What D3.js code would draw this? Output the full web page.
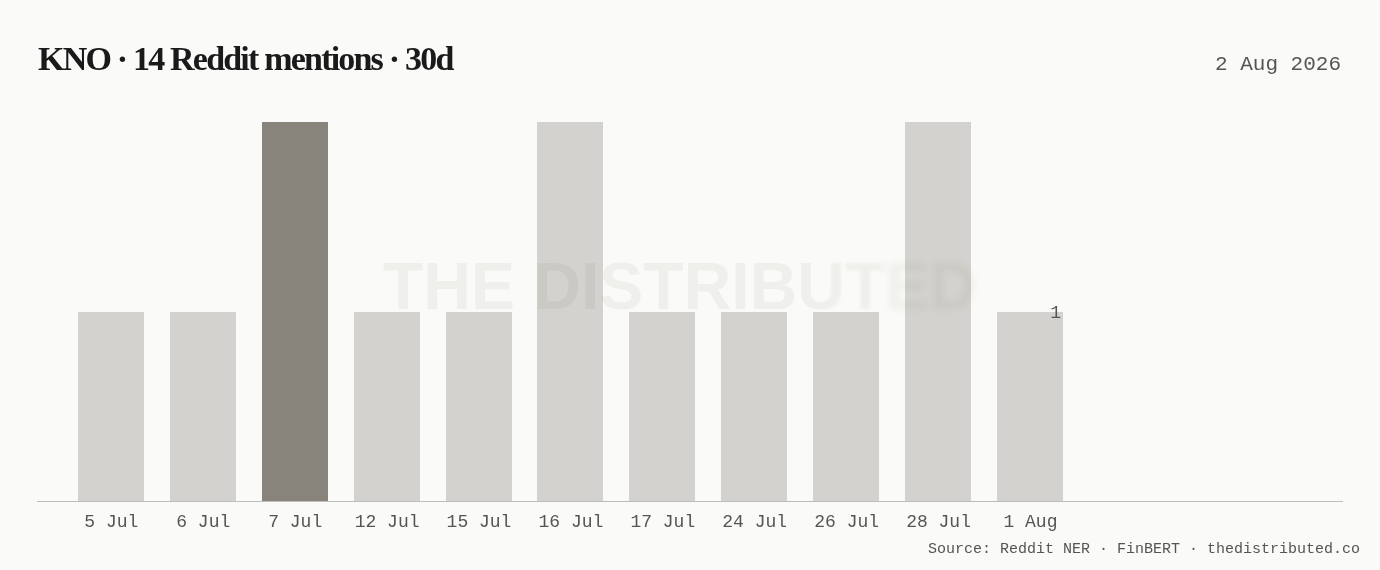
<!DOCTYPE html>
<html><head><meta charset="utf-8">
<script src="https://cdn.jsdelivr.net/npm/d3@7"></script>
<style>
html,body{margin:0;padding:0;background:#fafaf8;}
svg{display:block;}
</style></head>
<body>
<svg id="chart" width="1380" height="570"></svg>
<script>
const dates = ["5 Jul","6 Jul","7 Jul","12 Jul","15 Jul","16 Jul","17 Jul","24 Jul","26 Jul","28 Jul","1 Aug"];
const mentions = [1,1,2,1,1,2,1,1,1,2,1];
const highlighted = ["7 Jul"];
const titleText = "KNO · 14 Reddit mentions · 30d";
const dateText = "2 Aug 2026";
const sourceText = "Source: Reddit NER · FinBERT · thedistributed.co";
const watermarkText = "THE DISTRIBUTED";
const lastLabel = "1";

const svg = d3.select("#chart");
const W = 1380, H = 570;
svg.append("rect").attr("width",W).attr("height",H).attr("fill","#fafaf8");

const x = d3.scaleBand().domain(dates).range([65.4,1076.4]).paddingInner(0.2826).paddingOuter(0.1413);
const y = d3.scaleLinear().domain([0,2]).range([501,122]).interpolate(d3.interpolateRound);

const data = dates.map((d,i)=>({d, v:mentions[i]}));

svg.append("g").selectAll("rect").data(data).join("rect")
  .attr("x",d=>Math.floor(x(d.d))).attr("width",Math.round(x.bandwidth()))
  .attr("y",d=>y(d.v)).attr("height",d=>y(0)-y(d.v))
  .attr("fill",d=>highlighted.includes(d.d)?"#88847b":"#d3d2ce");

// watermark
const defs = svg.append("defs");
defs.append("filter").attr("id","blur1").attr("x","-20%").attr("y","-50%").attr("width","140%").attr("height","200%")
  .append("feGaussianBlur").attr("stdDeviation",1.6);
defs.append("filter").attr("id","blur2").attr("x","-20%").attr("y","-50%").attr("width","140%").attr("height","200%")
  .append("feGaussianBlur").attr("stdDeviation",3.5);
defs.append("clipPath").attr("id","c1").append("rect").attr("x",0).attr("y",0).attr("width",828).attr("height",H);
defs.append("clipPath").attr("id","c2").append("rect").attr("x",828).attr("y",0).attr("width",52).attr("height",H);
defs.append("clipPath").attr("id","c3").append("rect").attr("x",880).attr("y",0).attr("width",220).attr("height",H);
const wm = svg.append("g").style("mix-blend-mode","multiply");
[["c1",null],["c2","blur1"],["c3","blur2"]].forEach(([c,f])=>{
  const g = wm.append("g").attr("clip-path",`url(#${c})`);
  g.append("text").attr("x",680).attr("y",309).attr("text-anchor","middle")
    .attr("font-family","Liberation Sans, Arial, sans-serif").attr("font-weight","bold")
    .attr("font-size",66).attr("fill","#f4f4f2")
    .attr("filter",f?`url(#${f})`:null).text(watermarkText);
});

// axis
svg.append("line").attr("x1",37).attr("x2",1343).attr("y1",501.5).attr("y2",501.5)
  .attr("stroke","#bdbdb9").attr("stroke-width",1.2);
const xAxis = d3.axisBottom(x).tickSize(0).tickPadding(0);
const ax = svg.append("g").attr("transform","translate(0,501)").call(xAxis);
ax.select(".domain").remove();
ax.selectAll("text").attr("y",26).attr("dy",0)
  .attr("font-family","Liberation Mono, DejaVu Sans Mono, monospace")
  .attr("font-size",18).attr("fill","#555");

// last value label
const last = data[data.length-1];
svg.append("text").attr("x",Math.floor(x(last.d))+Math.round(x.bandwidth())-2).attr("y",y(last.v)+6)
  .attr("text-anchor","end").attr("font-family","Liberation Mono, monospace")
  .attr("font-size",18).attr("fill","#555").text(lastLabel);

// title
svg.append("text").attr("x",38).attr("y",70)
  .attr("font-family","Liberation Serif, Times New Roman, serif").attr("font-weight","bold")
  .attr("font-size",34).attr("letter-spacing",-1.8).attr("fill","#1a1a1a").text(titleText);

svg.append("text").attr("x",1341).attr("y",70).attr("text-anchor","end")
  .attr("font-family","Liberation Mono, monospace").attr("font-size",21).attr("fill","#555").text(dateText);

svg.append("text").attr("x",1360).attr("y",553).attr("text-anchor","end")
  .attr("font-family","Liberation Mono, monospace").attr("font-size",15).attr("fill","#555").text(sourceText);
</script>
</body></html>
